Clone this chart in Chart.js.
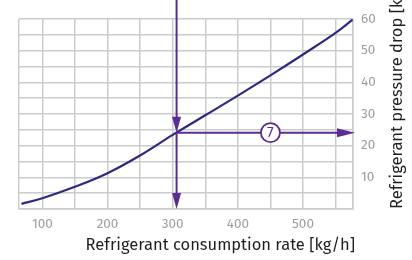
<!DOCTYPE html>
<html>
<head>
<meta charset="utf-8">
<script src="https://cdn.jsdelivr.net/npm/chart.js@4"></script>
<style>
  html, body { margin: 0; padding: 0; background: #ffffff; }
  #wrap { width: 412px; height: 260px; position: relative; }
</style>
</head>
<body>
<div id="wrap"><canvas id="c"></canvas></div>
<script>
// ---- data ----
const flowRates = [68, 100, 150, 200, 250, 300, 350, 400, 450, 500, 550, 576];
const pressureDrops = [1.6, 3.4, 7.0, 11.3, 16.9, 23.4, 29.6, 35.8, 42.2, 48.8, 55.6, 59.8];
const xTickValues = [100, 200, 300, 400, 500];
const yTickValues = [10, 20, 30, 40, 50, 60];
const readFlow = 306;      // example reading: flow rate
const readDrop = 24.1;     // example reading: resulting pressure drop
const markerFlow = 450;    // position of the "7" marker along the arrow
const markerLabel = '7';
const xTitle = 'Refrigerant consumption rate [kg/h]';
const yTitle = 'Refrigerant pressure drop [kPa]';

const FONT = "'Fira Sans', 'Open Sans', 'Noto Sans', sans-serif";
const ARROW = '#5a2d91';
const CURVE = '#2e2a80';

const points = flowRates.map((x, i) => ({ x, y: pressureDrops[i] }));

function arrowHead(ctx, x, y, dir, len, half) {
  ctx.beginPath();
  if (dir === 'down') { ctx.moveTo(x, y); ctx.lineTo(x - half, y - len); ctx.lineTo(x + half, y - len); }
  else if (dir === 'right') { ctx.moveTo(x, y); ctx.lineTo(x - len, y - half); ctx.lineTo(x - len, y + half); }
  ctx.closePath();
  ctx.fill();
}

const overlay = {
  id: 'overlay',
  afterDatasetsDraw(chart) {
    const { ctx, scales: { x, y }, chartArea } = chart;
    const px = x.getPixelForValue(readFlow);
    const py = y.getPixelForValue(readDrop);
    const by = y.getPixelForValue(0);
    const rx = chartArea.right + 2;
    ctx.save();
    ctx.strokeStyle = ARROW;
    ctx.fillStyle = ARROW;
    ctx.lineWidth = 2;
    // vertical from top to curve
    ctx.beginPath(); ctx.moveTo(px, 0); ctx.lineTo(px, py - 10); ctx.stroke();
    arrowHead(ctx, px, py, 'down', 16, 4.5);
    // vertical from curve to axis
    ctx.beginPath(); ctx.moveTo(px, py); ctx.lineTo(px, by - 10); ctx.stroke();
    arrowHead(ctx, px, by, 'down', 16, 4.5);
    // horizontal from curve to right
    ctx.beginPath(); ctx.moveTo(px, py); ctx.lineTo(rx - 10, py); ctx.stroke();
    arrowHead(ctx, rx, py, 'right', 18, 4.5);
    // marker circle
    const mx = x.getPixelForValue(markerFlow);
    ctx.beginPath(); ctx.arc(mx, py, 9.5, 0, Math.PI * 2);
    ctx.fillStyle = '#ffffff'; ctx.fill();
    ctx.lineWidth = 1.8; ctx.stroke();
    ctx.fillStyle = ARROW;
    ctx.font = '15px ' + FONT;
    ctx.textAlign = 'center'; ctx.textBaseline = 'middle';
    ctx.fillText(markerLabel, mx, py + 0.5);
    // x axis title
    ctx.fillStyle = '#1e1e1e';
    ctx.font = '16.5px ' + FONT;
    ctx.textAlign = 'right'; ctx.textBaseline = 'middle';
    ctx.fillText(xTitle, chartArea.right + 2, 245);
    // right axis title, reading bottom to top
    ctx.translate(397, chartArea.bottom);
    ctx.rotate(-Math.PI / 2);
    ctx.textAlign = 'left'; ctx.textBaseline = 'middle';
    ctx.fillText(yTitle, 0, 0);
    ctx.restore();
  }
};

new Chart(document.getElementById('c'), {
  type: 'scatter',
  data: {
    datasets: [{
      data: points,
      showLine: true,
      borderColor: CURVE,
      borderWidth: 2.2,
      pointRadius: 0,
      tension: 0.4,
      fill: false
    }]
  },
  options: {
    responsive: true,
    maintainAspectRatio: false,
    animation: false,
    devicePixelRatio: 1,
    layout: { padding: { left: 19, top: 19, right: 0, bottom: 0 } },
    plugins: { legend: { display: false }, tooltip: { enabled: false } },
    scales: {
      x: {
        type: 'linear',
        min: 64.2,
        max: 576.7,
        afterBuildTicks(scale) {
          const t = [scale.min];
          for (let v = 100; v <= 550; v += 50) t.push(v);
          t.push(scale.max);
          scale.ticks = t.map(v => ({ value: v }));
        },
        afterFit(scale) { scale.height = 51; },
        grid: { color: '#cbcbcb', lineWidth: 1.5, drawTicks: false },
        border: { display: true, color: '#cbcbcb', width: 1.5 },
        ticks: {
          autoSkip: false,
          maxRotation: 0,
          padding: 7,
          color: '#9c9c9c',
          font: { family: FONT, size: 13.5 },
          callback: v => xTickValues.includes(v) ? String(v) : ''
        }
      },
      y: {
        type: 'linear',
        position: 'right',
        min: 0,
        max: 60,
        afterBuildTicks(scale) {
          const t = [];
          for (let v = 0; v <= 60; v += 5) t.push(v);
          scale.ticks = t.map(v => ({ value: v }));
        },
        afterFit(scale) { scale.width = 59; },
        grid: { color: '#cbcbcb', lineWidth: 1.5, drawTicks: false },
        border: { display: true, color: '#cbcbcb', width: 1.5 },
        ticks: {
          autoSkip: false,
          padding: 8,
          color: '#9c9c9c',
          font: { family: FONT, size: 13.5 },
          callback: v => yTickValues.includes(v) ? String(v) : ''
        }
      }
    }
  },
  plugins: [overlay]
});
</script>
</body>
</html>
